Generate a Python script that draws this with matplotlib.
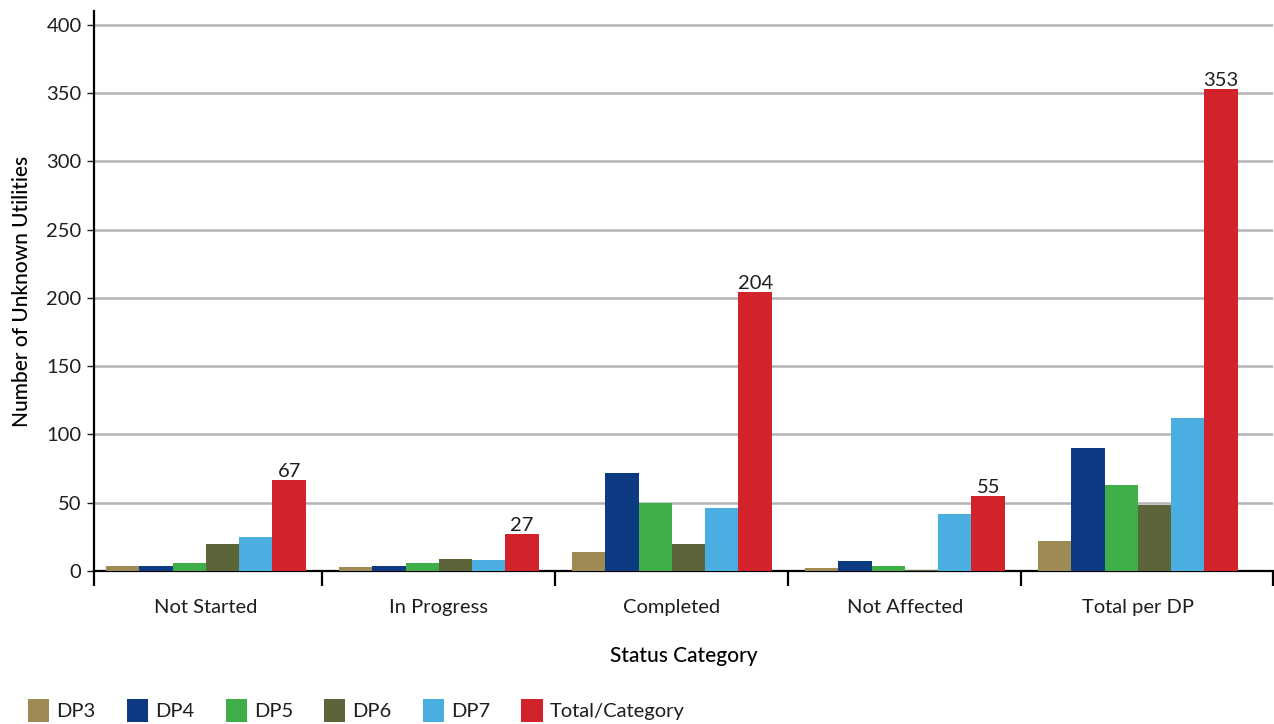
import matplotlib
matplotlib.use("Agg")
import matplotlib.pyplot as plt
import numpy as np

plt.rcParams['font.family'] = ['Lato', 'DejaVu Sans']

categories = ["Not Started", "In Progress", "Completed", "Not Affected", "Total per DP"]
series_names = ["DP3", "DP4", "DP5", "DP6", "DP7", "Total/Category"]
dp3 = [4, 3, 14, 2, 22]
dp4 = [4, 4, 72, 7, 90]
dp5 = [6, 6, 50, 4, 63]
dp6 = [20, 9, 20, 1, 48]
dp7 = [25, 8, 46, 42, 112]
total = [67, 27, 204, 55, 353]
y_ticks = [0, 50, 100, 150, 200, 250, 300, 350, 400]

series = [dp3, dp4, dp5, dp6, dp7, total]
colors = ["#9e8a55", "#0e3a84", "#3fae49", "#5c643a", "#4aaee0", "#d2232a"]
text_color = "#1e1e1e"

fig = plt.figure(figsize=(12.74, 7.24), dpi=100)
ax = fig.add_axes([0.0738, 0.2113, 0.9254, 0.7735])

x = np.arange(len(categories))
width = 0.143
n = len(series)
for i, (vals, col, name) in enumerate(zip(series, colors, series_names)):
    offs = (i - (n - 1) / 2) * width
    bars = ax.bar(x + offs, vals, width, color=col, label=name, zorder=3)
    if name == "Total/Category":
        ax.bar_label(bars, labels=[str(v) for v in vals], padding=0,
                     fontsize=14.5, color=text_color)

x_lo, x_hi = -0.48, len(categories) - 0.42
ax.set_xlim(x_lo, x_hi)
ax.set_ylim(0, 410)
ax.set_yticks(y_ticks)
ax.tick_params(axis='y', labelsize=14.5, length=5, width=1, pad=4,
               color=text_color, labelcolor=text_color)
ax.yaxis.grid(True, color="#b3b3b8", linewidth=1.8, zorder=0)
ax.set_axisbelow(True)

# Boundary ticks between categories, labels centred under each group
bounds = [x_lo] + list(np.arange(0.5, len(categories) - 1, 1.0)) + [x_hi]
ax.set_xticks(bounds)
ax.set_xticklabels([])
ax.tick_params(axis='x', which='major', length=11, width=1.6, direction='out')
ax.set_xticks(x, minor=True)
ax.set_xticklabels(categories, minor=True)
ax.tick_params(axis='x', which='minor', length=0, pad=20, labelsize=14.5,
               labelcolor=text_color)

for s in ["top", "right"]:
    ax.spines[s].set_visible(False)
ax.spines["left"].set_linewidth(1.6)
ax.spines["bottom"].set_linewidth(1.6)

ax.set_ylabel("Number of Unknown Utilities", fontsize=15, fontweight="medium",
              labelpad=10, color="black")
ax.set_xlabel("Status Category", fontsize=15, fontweight="medium", labelpad=22,
              color="black")

fig.legend(loc="lower left", bbox_to_anchor=(0.008, -0.022), ncol=6, frameon=False,
           prop={"size": 14.5}, labelcolor=text_color, handlelength=1.05,
           handleheight=1.35, handletextpad=0.35, columnspacing=1.55)

fig.savefig("out.png", dpi=100)
